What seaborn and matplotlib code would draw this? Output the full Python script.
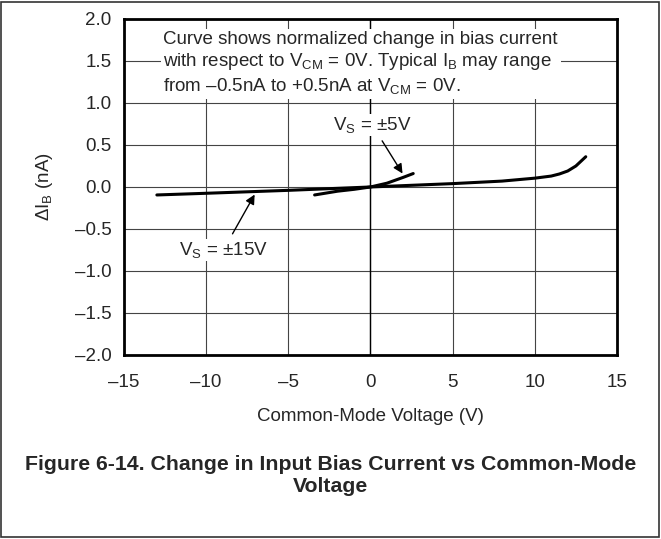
import matplotlib
matplotlib.use("Agg")
import matplotlib.pyplot as plt
import seaborn as sns
import pandas as pd
from matplotlib.patches import Rectangle

# Vs = +/-15V curve
vcm_15 = [-13.0, -10.0, -5.0, 0.0, 5.0, 8.0, 10.0, 11.0, 11.5, 12.0, 12.5, 13.1]
dib_15 = [-0.095, -0.075, -0.04, 0.0, 0.04, 0.07, 0.105, 0.13, 0.155, 0.19, 0.25, 0.36]

# Vs = +/-5V curve
vcm_5 = [-3.4, -2.0, -1.0, 0.0, 1.0, 2.0, 2.6]
dib_5 = [-0.095, -0.05, -0.028, 0.0, 0.045, 0.115, 0.16]

x_ticks = [-15, -10, -5, 0, 5, 10, 15]
y_ticks = [-2.0, -1.5, -1.0, -0.5, 0.0, 0.5, 1.0, 1.5, 2.0]


def fmt(v, nd):
    s = f"{abs(v):.{nd}f}"
    return ("\u2013" + s) if v < 0 else s


sns.set_style("white")
plt.rcParams["font.family"] = ["Liberation Sans", "DejaVu Sans"]
plt.rcParams["mathtext.fontset"] = "custom"
plt.rcParams["mathtext.rm"] = "Liberation Sans"
plt.rcParams["mathtext.it"] = "Liberation Sans"

fs = 13.5

fig = plt.figure(figsize=(6.61, 5.39), dpi=100)
ax = fig.add_axes([0.1876, 0.3414, 0.7458, 0.6234])

df15 = pd.DataFrame({"vcm": vcm_15, "dib": dib_15})
df5 = pd.DataFrame({"vcm": vcm_5, "dib": dib_5})
sns.lineplot(data=df15, x="vcm", y="dib", ax=ax, color="black", linewidth=2.2, zorder=4)
sns.lineplot(data=df5, x="vcm", y="dib", ax=ax, color="black", linewidth=2.2, zorder=4)

ax.set_xlim(-15, 15)
ax.set_ylim(-2.0, 2.0)
ax.set_xticks(x_ticks)
ax.set_yticks(y_ticks)
ax.set_xticklabels([fmt(v, 0) for v in x_ticks], fontsize=fs)
ax.set_yticklabels([fmt(v, 1) for v in y_ticks], fontsize=fs)
ax.tick_params(axis="x", length=0, pad=14)
ax.tick_params(axis="y", length=0, pad=9)

ax.grid(True, color="#444444", linewidth=0.8, zorder=0)
ax.axvline(0, color="black", linewidth=1.0, zorder=1)
for s in ax.spines.values():
    s.set_linewidth(2.0)
    s.set_color("black")
    s.set_visible(True)

ax.set_xlabel("Common-Mode Voltage (V)", fontsize=fs, labelpad=12)
ax.set_ylabel(r"$\Delta$I$_{\rm B}$ (nA)", fontsize=fs, labelpad=14)

note = ("Curve shows normalized change in bias current\n"
        r"with respect to V$_{\rm CM}$ = 0V. Typical I$_{\rm B}$ may range" + "\n"
        "from \u20130.5nA to +0.5nA at V$_{\\rm CM}$ = 0V.")
ax.text(-12.6, 1.47, note, fontsize=fs, ha="left", va="center", linespacing=1.25,
        bbox=dict(facecolor="white", edgecolor="none", pad=2), zorder=3)

ax.annotate(r"V$_{\rm S}$ = ±5V", xy=(1.95, 0.16), xytext=(0.1, 0.74),
            fontsize=fs, ha="center", va="center",
            bbox=dict(facecolor="white", edgecolor="none", pad=1),
            arrowprops=dict(arrowstyle="-|>", color="black", lw=1.0,
                            mutation_scale=14, shrinkA=4, shrinkB=0), zorder=5)
ax.annotate(r"V$_{\rm S}$ = ±15V", xy=(-7.05, -0.09), xytext=(-8.95, -0.75),
            fontsize=fs, ha="center", va="center",
            bbox=dict(facecolor="white", edgecolor="none", pad=1),
            arrowprops=dict(arrowstyle="-|>", color="black", lw=1.0,
                            mutation_scale=14, shrinkA=4, shrinkB=0), zorder=5)

fig.text(0.5, 0.117, "Figure 6-14. Change in Input Bias Current vs Common-Mode\nVoltage",
         ha="center", va="center", fontsize=15.3, fontweight="bold", linespacing=1.2)

fig.patches.append(Rectangle((0.002, 0.004), 0.995, 0.992, transform=fig.transFigure,
                             fill=False, edgecolor="#333333", linewidth=1.2))

fig.savefig("out.png", dpi=100)
